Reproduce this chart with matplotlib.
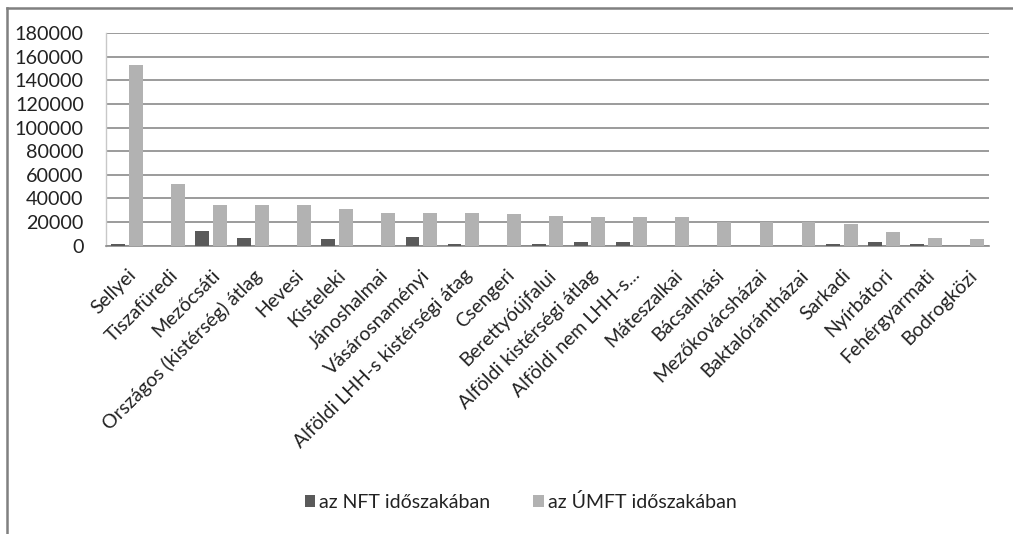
import matplotlib
matplotlib.use("Agg")
import matplotlib.pyplot as plt
from matplotlib.lines import Line2D
import numpy as np

categories = ["Sellyei", "Tiszafüredi", "Mezőcsáti", "Országos (kistérség) átlag", "Hevesi",
              "Kisteleki", "Jánoshalmai", "Vásárosnaményi", "Alföldi LHH-s kistérségi átag",
              "Csengeri", "Berettyóújfalui", "Alföldi kistérségi átlag", "Alföldi nem LHH-s...",
              "Máteszalkai", "Bácsalmási", "Mezőkovácsházai", "Baktalórántházai", "Sarkadi",
              "Nyírbátori", "Fehérgyarmati", "Bodrogközi"]
nft = [1400, 0, 12700, 6200, 0, 5400, 0, 7000, 1400, 0, 1400, 3400, 3400, 0, 0, 0, 0, 1400, 3400, 1400, 0]
umft = [153000, 52300, 34500, 34500, 34500, 30800, 28000, 28000, 28000, 26800, 25100, 24000,
        24000, 24000, 20300, 20300, 20300, 18400, 11900, 6200, 5400]
series_names = ["az NFT időszakában", "az ÚMFT időszakában"]
yticks = [0, 20000, 40000, 60000, 80000, 100000, 120000, 140000, 160000, 180000]

plt.rcParams['font.family'] = ['Lato', 'DejaVu Sans']

fig = plt.figure(figsize=(10.13, 5.34), dpi=100)
ax = fig.add_axes([0.1046, 0.540, 0.8716, 0.398])

x = np.arange(len(categories))
w = 0.33
c_nft = "#5a5a5a"
c_umft = "#b2b2b2"
ax.bar(x - 0.21, nft, w, color=c_nft, edgecolor="none", label=series_names[0], zorder=3)
ax.bar(x + 0.21, umft, w, color=c_umft, edgecolor="none", label=series_names[1], zorder=3)

ax.set_xlim(-0.5, len(categories) - 0.5)
ax.set_ylim(0, 180000)
ax.set_yticks(yticks)
ax.set_yticklabels([str(v) for v in yticks], fontsize=14.2, color="#222222")
ax.yaxis.grid(True, color="#8a8a8a", linewidth=1.2, zorder=0)
ax.set_axisbelow(True)
ax.tick_params(axis='y', length=0, pad=16)
ax.tick_params(axis='x', length=0, pad=15)
ax.set_xticks(x)
ax.set_xticklabels(categories, rotation=45, ha='right', rotation_mode='anchor',
                   fontsize=14, color="#222222")
for s in ["top", "right"]:
    ax.spines[s].set_visible(False)
ax.spines["left"].set_color("#c8c8c8")
ax.spines["left"].set_linewidth(1.0)
ax.spines["bottom"].set_color("#8a8a8a")
ax.spines["bottom"].set_linewidth(1.2)

leg = fig.legend(loc='center', bbox_to_anchor=(0.514, 0.06), ncol=2, frameon=False,
                 fontsize=14, handlelength=0.55, handleheight=0.55, handletextpad=0.2,
                 columnspacing=2.2)
for t in leg.get_texts():
    t.set_color("#222222")

# outer chart border (cut off at right and bottom)
fig.add_artist(Line2D([0.007, 1.0], [1 - 7.5 / 534, 1 - 7.5 / 534], transform=fig.transFigure,
                      color="#808080", linewidth=1.8))
fig.add_artist(Line2D([0.007, 0.007], [0.0, 1 - 7.5 / 534], transform=fig.transFigure,
                      color="#808080", linewidth=1.8))

fig.savefig("out.png", dpi=100)
